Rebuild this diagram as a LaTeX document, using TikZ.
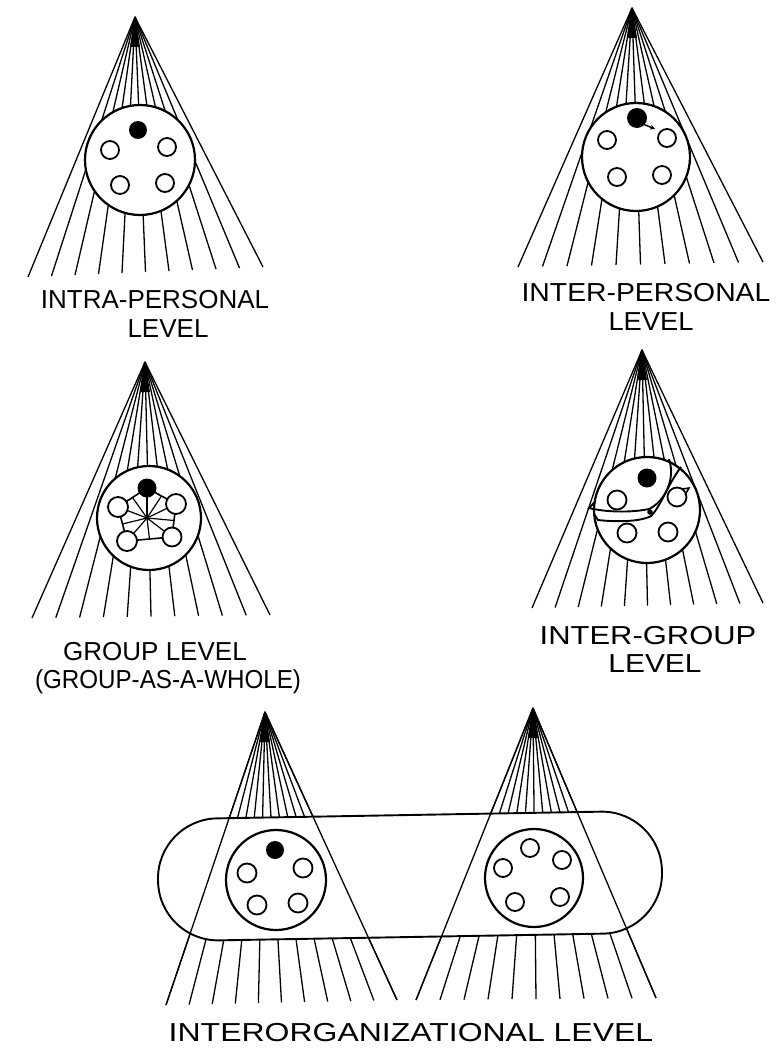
\documentclass[tikz,border=0pt]{standalone}
\usepackage{fontspec}
\setmainfont{Liberation Sans}
\usetikzlibrary{calc,arrows.meta}
\newcommand{\conefan}[3]{%
  \foreach \i in {0,...,10}{\draw[ray] (#1) -- ($(#2)!\i/10!(#3)$);}
  \fill ($(#1)+(0,-1)$) -- ($(#1)+(-5,30)$) -- ($(#1)+(5,30)$) -- cycle;
}
\tikzset{
  ray/.style={line width=1.3pt},
  ring/.style={line width=2.2pt, fill=white},
  person/.style={line width=1.8pt, fill=white},
  self/.style={fill=black},
  lbl/.style={inner sep=0pt, font=\fontsize{26pt}{28pt}\selectfont, align=center},
}
\begin{document}
\begin{tikzpicture}[x=1pt,y=-1pt]
\useasboundingbox (0,0) rectangle (782,1062);

% ---------- Panel 1: intra-personal ----------
\coordinate (a1) at (135,17);
\coordinate (l1) at (28,277);
\coordinate (r1) at (263,267);
\conefan{a1}{l1}{r1}
\draw[ring] (140,160) circle[radius=55pt];
\fill[self] (138,130) circle[radius=9pt];
\draw[person] (110,150) circle[radius=9pt];
\draw[person] (167,147) circle[radius=9pt];
\draw[person] (120,185) circle[radius=9pt];
\draw[person] (165,183) circle[radius=9pt];
\node[lbl] (t1a) at (155,300) {INTRA-PERSONAL};
\node[lbl] (t1b) at (168,329) {LEVEL};

% ---------- Panel 2: inter-personal ----------
\coordinate (a2) at (632,8);
\coordinate (l2) at (518,267);
\coordinate (r2) at (763,262);
\conefan{a2}{l2}{r2}
\draw[ring] (636,157) circle[radius=54pt];
\fill[self] (637,118) coordinate (d2) circle[radius=10pt];
\coordinate (d2e) at (655,129);
\draw[line width=1.4pt,-{Stealth[length=5pt,width=5pt]}] ($(d2)+(6,6)$) -- (d2e);
\draw[person] (607,140) circle[radius=9pt];
\draw[person] (667,138) circle[radius=9pt];
\draw[person] (617,177) circle[radius=9pt];
\draw[person] (662,175) circle[radius=9pt];
\node[lbl] (t2a) at (646,293) {\scalebox{1.09}[1]{INTER-PERSONAL}};
\node[lbl] (t2b) at (651,322) {\scalebox{1.05}[1]{LEVEL}};

% ---------- Panel 3: group level ----------
\coordinate (a3) at (145,362);
\coordinate (l3) at (32,618);
\coordinate (r3) at (270,615);
\conefan{a3}{l3}{r3}
\draw[ring] (149,518) circle[radius=52pt];
\coordinate (h) at (147,518);
\coordinate (gT) at (147,488);
\coordinate (gUL) at (118,507);
\coordinate (gUR) at (176,504);
\coordinate (gLL) at (127,541);
\coordinate (gLR) at (172,537);
\draw[line width=1.6pt] (gT) -- (gUL) -- (gLL) -- (gLR) -- (gUR) -- cycle;
\foreach \p in {gT,gUL,gUR,gLL,gLR}{\draw[line width=1.2pt] (h) -- (\p);}
\draw[line width=1.2pt] (h) -- ($(gT)!0.5!(gUL)$);
\draw[line width=1.2pt] (h) -- ($(gT)!0.5!(gUR)$);
\draw[line width=1.2pt] (h) -- ($(gUL)!0.5!(gLL)$);
\draw[line width=1.2pt] (h) -- ($(gUR)!0.5!(gLR)$);
\draw[line width=1.2pt] (h) -- ($(gLL)!0.5!(gLR)$);
\fill[self] (gT) circle[radius=9.5pt];
\draw[person] (gUL) circle[radius=10pt];
\draw[person] (gUR) circle[radius=10pt];
\draw[person] (gLL) circle[radius=10pt];
\draw[person] (gLR) circle[radius=9.5pt];
\node[lbl] (t3a) at (155,652) {GROUP LEVEL};
\node[lbl] (t3b) at (168,682) {\scalebox{0.93}[1]{(GROUP-AS-A-WHOLE)}};

% ---------- Panel 4: inter-group ----------
\coordinate (a4) at (642,350);
\coordinate (l4) at (532,608);
\coordinate (r4) at (763,603);
\conefan{a4}{l4}{r4}
\draw[ring] (647,510) circle[radius=53pt];
% lens boundary (sub-group)
\draw[line width=1.9pt] (669,459) .. controls (676,480) and (664,502) .. (649,509)
   .. controls (630,513) and (605,512) .. (589,508) -- (595,502);
% other sub-group boundary
\draw[line width=1.9pt] (594,514) -- (598,520) .. controls (615,522) and (640,522) .. (651,516)
   .. controls (661,506) and (668,484) .. (681,467);
\fill (650,512) circle[radius=2.8pt];
\fill[self] (647,478) circle[radius=9.5pt];
\draw[person] (617,500) circle[radius=9.5pt];
\draw[person] (677,497) circle[radius=9.5pt];
\draw[line width=1.5pt] (682,489) -- (689,488) -- (685,495);
\draw[person] (627,533) circle[radius=9.5pt];
\draw[person] (668,532) circle[radius=9.5pt];
\node[lbl] (t4a) at (648,636) {\scalebox{1.19}[1]{INTER-GROUP}};
\node[lbl] (t4b) at (655,664) {\scalebox{1.15}[1]{LEVEL}};

% ---------- Panel 5: interorganizational ----------
\coordinate (a5) at (265,712);
\coordinate (l5) at (166,1005);
\coordinate (r5) at (397,1000);
\coordinate (a6) at (533,708);
\coordinate (l6) at (416,1000);
\coordinate (r6) at (656,998);
\conefan{a5}{l5}{r5}
\conefan{a6}{l6}{r6}
\begin{scope}[shift={(410,876)},rotate=1]
  \draw[line width=1.9pt, fill=white, rounded corners=60pt] (-252,-61) rectangle (252,61);
\end{scope}
\draw[ray] (a5) -- (l5);
\draw[ray] (a5) -- (r5);
\draw[ray] (a6) -- (l6);
\draw[ray] (a6) -- (r6);
\draw[ring] (276,880) circle[radius=50pt];
\fill[self] (275,850) circle[radius=9pt];
\draw[person] (247,873) circle[radius=9.5pt];
\draw[person] (303,868) circle[radius=9.5pt];
\draw[person] (257,905) circle[radius=9.5pt];
\draw[person] (298,903) circle[radius=9.5pt];
\draw[ring] (534,878) circle[radius=49pt];
\draw[person] (530,848) circle[radius=9pt];
\draw[person] (562,860) circle[radius=9pt];
\draw[person] (503,868) circle[radius=9pt];
\draw[person] (515,902) circle[radius=9pt];
\draw[person] (560,897) circle[radius=9pt];
\node[lbl] (t5) at (411,1033) {\scalebox{1.23}[1]{INTERORGANIZATIONAL LEVEL}};
\end{tikzpicture}
\end{document}
